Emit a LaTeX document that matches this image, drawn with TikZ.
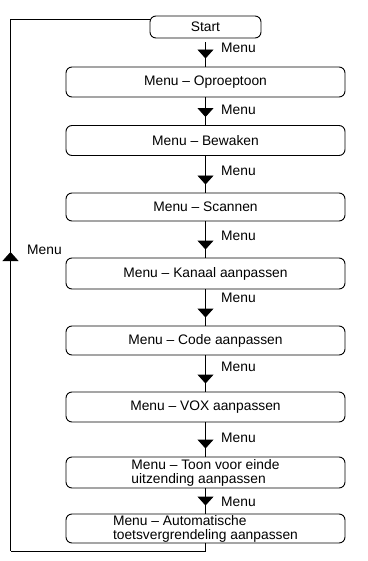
\documentclass[tikz,border=0pt]{standalone}
\usepackage{fontspec}
\setmainfont{Liberation Sans}
\usetikzlibrary{arrows.meta,decorations.markings}
\begin{document}
\begin{tikzpicture}[x=1pt,y=-1pt,
  every node/.style={font=\fontsize{13.8}{14}\selectfont, text=black},
  box/.style={draw, rounded corners=6pt, minimum width=279pt, inner sep=0pt, line width=0.9pt, align=left},
  startbox/.style={draw, rounded corners=6pt, minimum width=111pt, minimum height=22pt, inner sep=0pt, line width=0.9pt},
  conn/.style={line width=0.9pt},
  flow/.style={conn, postaction={decorate}, decoration={markings, mark=at position -8pt with {\arrow{Triangle[width=16pt,length=9pt]}}}},
  lbl/.style={anchor=west, inner sep=0pt}
]
\useasboundingbox (0,0) rectangle (367,561);
\node[startbox] (s) at (205.5,27) {Start};
\node[box, minimum height=30pt] (b1) at (205.5,82) {Menu – Oproeptoon};
\node[box, minimum height=30pt] (b2) at (205.5,140.5) {Menu – Bewaken};
\node[box, minimum height=28pt] (b3) at (205.5,207) {Menu – Scannen};
\node[box, minimum height=31pt] (b4) at (205.5,273.5) {Menu – Kanaal aanpassen};
\node[box, minimum height=29pt] (b5) at (205.5,340.5) {Menu – Code aanpassen};
\node[box, minimum height=30pt] (b6) at (205.5,407) {Menu – VOX aanpassen};
\node[box, minimum height=31pt] (b7) at (205.5,472.5) {Menu – Toon voor einde\\uitzending aanpassen};
\node[box, minimum height=29pt] (b8) at (205.5,528.5) {Menu – Automatische\\toetsvergrendeling aanpassen};

\draw[flow, shorten <=4pt] (s.south) -- (b1.north);
\draw[flow] (b1.south) -- (b2.north);
\draw[flow] (b2.south) -- (b3.north);
\draw[flow] (b3.south) -- (b4.north);
\draw[flow] (b4.south) -- (b5.north);
\draw[flow] (b5.south) -- (b6.north);
\draw[flow] (b6.south) -- (b7.north);
\draw[flow] (b7.south) -- (b8.north);

\node[lbl] (m1) at (221,48) {Menu};
\node[lbl] (m2) at (221,110) {Menu};
\node[lbl] (m3) at (221,171) {Menu};
\node[lbl] (m4) at (221,236) {Menu};
\node[lbl] (m5) at (221,298) {Menu};
\node[lbl] (m6) at (221,367) {Menu};
\node[lbl] (m7) at (221,438) {Menu};
\node[lbl] (m8) at (221,502) {Menu};

\coordinate (lb) at (10.5,551);
\coordinate (lt) at (10.5,19.5);
\draw[conn] (b8.south) |- (lb);
\draw[conn, postaction={decorate}, decoration={markings, mark=at position 299pt with {\arrow{Triangle[width=16pt,length=9pt]}}}] (lb) -- (lt);
\draw[conn] (lt) -- (lt -| s.west);
\node[lbl] (m0) at (27,250) {Menu};
\end{tikzpicture}
\end{document}
